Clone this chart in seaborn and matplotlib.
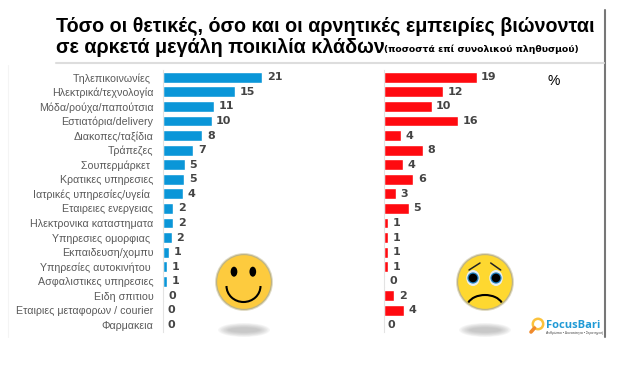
import matplotlib
matplotlib.use("Agg")
import matplotlib.pyplot as plt
import pandas as pd
import seaborn as sns
from matplotlib.patches import Arc, Circle, Ellipse

# Sectors, top to bottom
sectors = ["Τηλεπικοινωνίες ", "Ηλεκτρικά/τεχνολογία", "Μόδα/ρούχα/παπούτσια", "Εστιατόρια/delivery",
           "Διακοπες/ταξίδια", "Τράπεζες", "Σουπερμάρκετ ", "Κρατικες υπηρεσιες",
           "Ιατρικές υπηρεσίες/υγεία ", "Εταιρειες ενεργειας", "Ηλεκτρονικα καταστηματα", "Υπηρεσιες ομορφιας ",
           "Εκπαιδευση/χομπυ", "Υπηρεσίες αυτοκινήτου ", "Ασφαλιστικες υπηρεσιες", "Ειδη σπιτιου",
           "Εταιριες μεταφορων / courier", "Φαρμακεια"]

# Bar lengths as measured, printed labels are the rounded figures
positive = [21, 15.3, 10.9, 10.3, 8.4, 6.5, 4.7, 4.6, 4.4, 2.3, 2.3, 2.0, 1.4, 1.0, 0.9, 0.4, 0, 0]
negative = [19, 12.1, 9.8, 15.3, 3.6, 8.1, 3.9, 6.1, 2.6, 5.2, 0.95, 0.95, 0.95, 0.9, 0.3, 2.2, 4.1, 0]
positive_labels = [21, 15, 11, 10, 8, 7, 5, 5, 4, 2, 2, 2, 1, 1, 1, 0, 0, 0]
negative_labels = [19, 12, 10, 16, 4, 8, 4, 6, 3, 5, 1, 1, 1, 1, 0, 2, 4, 0]

df = pd.DataFrame({"sector": sectors, "positive": positive, "negative": negative})

W, H = 644, 373
sns.set_theme(style="white")
plt.rcParams["font.family"] = ["Liberation Sans", "DejaVu Sans"]

fig = plt.figure(figsize=(W / 100, H / 100), dpi=100)
fig.patch.set_facecolor("white")

# Overlay in pixel coordinates for frame, faces and logo
bg = fig.add_axes([0, 0, 1, 1], zorder=0)
bg.set_xlim(0, W)
bg.set_ylim(H, 0)
bg.axis("off")


def pixel_axes(left, top, width, height):
    return fig.add_axes([left / W, 1 - (top + height) / H, width / W, height / H], zorder=2)


def draw_bars(ax, column, labels, color, scale):
    sns.barplot(data=df, x=column, y="sector", color=color, width=0.74, saturation=1, ax=ax)
    ax.set_xlim(0, 190 / scale)
    ax.set(xlabel="", ylabel="")
    ax.patch.set_alpha(0)
    ax.set_xticks([])
    sns.despine(ax=ax, bottom=True)
    ax.spines["left"].set_color("#e3e3e3")
    ax.spines["left"].set_linewidth(0.8)
    for value, text, bar in zip(df[column], labels, ax.patches):
        ax.text(value + 4.5 / scale, bar.get_y() + bar.get_height() / 2, str(text), va="center", ha="left",
                fontsize=8, fontweight="bold", color="#444444", family="DejaVu Sans")


row = 14.57
top = 77.3 - row / 2
height = row * 18

ax_pos = pixel_axes(162.5, top, 190, height)
draw_bars(ax_pos, "positive", positive_labels, "#0a96d8", 4.76)
ax_pos.tick_params(axis="y", length=0, pad=6.5, labelsize=7.7, labelcolor="#5a5a5a")

ax_neg = pixel_axes(383.5, top, 190, height)
draw_bars(ax_neg, "negative", negative_labels, "#ff0a10", 4.9)
ax_neg.set_yticks([])

# Frame
bg.plot([605, 605], [10, 337], color="#777777", lw=1.5)
bg.plot([56, 604], [62.7, 62.7], color="#dddddd", lw=1.5)
bg.plot([8, 8], [65, 337], color="#f4f4f4", lw=0.8)

# Title
bg.text(56, 26, "Τόσο οι θετικές, όσο και οι αρνητικές εμπειρίες βιώνονται", fontsize=14.25, fontweight="bold",
        color="black", va="center", ha="left")
bg.text(56, 47.5, "σε αρκετά μεγάλη ποικιλία κλάδων", fontsize=14.2, fontweight="bold",
        color="black", va="center", ha="left")
bg.text(579, 49.5, "(ποσοστά επί συνολικού πληθυσμού)", fontsize=6.7, fontweight="bold", color="black",
        va="center", ha="right", family="DejaVu Sans")
bg.text(554, 81, "%", fontsize=10, color="black", va="center", ha="center")


def shadow(x, y):
    for i in range(8):
        bg.add_patch(Ellipse((x, y), 52 - i * 3, 14 - i * 1.3, color="#8a8a8a", alpha=0.07, lw=0))


def face(x, y, fill):
    bg.add_patch(Circle((x, y), 29, color="#a89a5a", alpha=0.35, lw=0))
    bg.add_patch(Circle((x, y), 28, color="#a89a5a", alpha=0.6, lw=0))
    bg.add_patch(Circle((x, y), 26.8, color=fill, lw=0))


# Smiling face
face(244, 282, "#fdcb3e")
shadow(244, 330)
for dx in (-9.4, 9.4):
    bg.add_patch(Ellipse((243.4 + dx, 271.7), 6.7, 10, color="black", lw=0))
bg.add_patch(Arc((243.5, 286), 34, 32, theta1=0, theta2=180, color="black", lw=1.5))

# Worried face
face(485, 282, "#fed830")
shadow(485, 330)
for dx in (-11.5, 11.5):
    bg.add_patch(Ellipse((484.5 + dx, 278), 13.5, 16, color="#e6eef4", lw=0))
    bg.add_patch(Circle((484.5 + dx, 278), 5.6, color="#1f7fc0", lw=0))
    bg.add_patch(Circle((484.5 + dx, 278), 4.3, color="black", lw=0))
bg.plot([469, 480], [270, 263], color="#222222", lw=1.1)
bg.plot([490.7, 500.7], [263, 270], color="#222222", lw=1.1)
bg.add_patch(Arc((485, 307), 36, 24, theta1=195, theta2=345, color="black", lw=1.5))

# Logo
bg.add_patch(Circle((538, 324), 5.2, facecolor="white", edgecolor="#fbc23c", lw=1.8))
bg.plot([534.5, 531], [328, 332], color="#f08a2c", lw=2.6, solid_capstyle="round")
bg.text(546.5, 325, "FocusBari", fontsize=8, fontweight="bold", color="#1f9ad6", va="center", ha="left",
        family="Open Sans")
bg.text(546.5, 333, "Ανθρωποι • Δυνατότητα • Στρατηγική", fontsize=2.5, color="#444444", va="center", ha="left")

fig.savefig("out.png", dpi=100)
